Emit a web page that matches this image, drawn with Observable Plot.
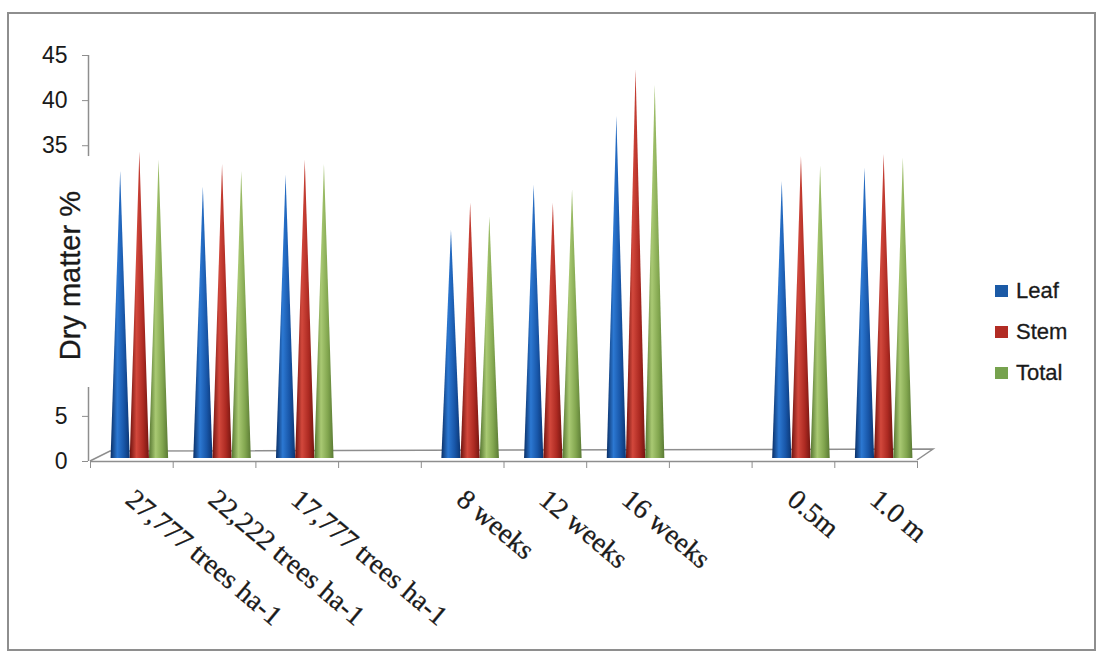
<!DOCTYPE html>
<html><head><meta charset="utf-8">
<script src="https://cdn.jsdelivr.net/npm/d3@7"></script>
<script src="https://cdn.jsdelivr.net/npm/@observablehq/plot@0.6"></script>
<style>
body{margin:0;background:#fff;}
#wrap{position:relative;width:1098px;height:653px;overflow:hidden;background:#fff;}
#chart{position:absolute;left:0;top:0;}
#frame{position:absolute;left:7px;top:12px;width:1089px;height:639px;border:2px solid #8e8e8e;box-sizing:border-box;pointer-events:none;}
#legend{position:absolute;left:995px;top:270px;font-family:"Liberation Sans",Arial,sans-serif;font-size:22px;color:#1a1a1a;-webkit-text-stroke:0.3px #1a1a1a;}
.item{display:flex;align-items:center;height:41px;}
.sw{width:13px;height:12px;margin-right:8px;}
</style></head>
<body>
<div id="wrap"><div id="chart"></div><div id="frame"></div><div id="legend"></div></div>
<script>
// ---- data ----
const categories = ["27,777 trees ha-1", "22,222 trees ha-1", "17,777 trees ha-1", "", "8 weeks", "12 weeks", "16 weeks", "", "0.5m", "1.0 m"];
const seriesNames = ["Leaf", "Stem", "Total"];
const leaf  = [31.8, 30.1, 31.4, null, 25.3, 30.3, 37.9, null, 30.7, 32.2];
const stem  = [34.0, 32.6, 33.1, null, 28.3, 28.3, 43.1, null, 33.5, 33.7];
const total = [33.1, 31.8, 32.6, null, 26.8, 29.8, 41.4, null, 32.4, 33.3];
const yTicks = [0, 5, 35, 40, 45];
const yAxisSegments = [[0, 8.2], [33.8, 45]];

// ---- styles ----
const legendColors = {Leaf: "#1b5aa6", Stem: "#b22c24", Total: "#76a24e"};
const gradStops = {
  Leaf:  ["#0a2f66", "#2c78d2", "#1856a8", "#0b3572"],
  Stem:  ["#6e120e", "#d2483c", "#ad2a22", "#741510"],
  Total: ["#557530", "#a9c973", "#82a64f", "#5a7a34"]
};
const coneWidth = 0.232;   // in category-slot units
const labelFont = '"Liberation Serif","Times New Roman",serif';
const sansFont = '"Liberation Sans",Arial,sans-serif';

const values = {Leaf: leaf, Stem: stem, Total: total};

function conePoints(name, j) {
  const pts = [];
  values[name].forEach((v, i) => {
    if (v == null) return;
    const c = i + 0.5 + (j - 1) * coneWidth;
    const id = name + i;
    pts.push({x: c - coneWidth / 2, y: 0, id});
    pts.push({x: c, y: v, id});
    pts.push({x: c + coneWidth / 2, y: 0, id});
  });
  return pts;
}

function floorMark(index, scales) {
  const ns = "http://www.w3.org/2000/svg";
  const x = scales.x, y = scales.y;
  const x0 = x(0), x1 = x(categories.length), y0 = y(0);
  const p = document.createElementNS(ns, "path");
  p.setAttribute("d", `M${x0},${y0}L${x0 + 20},${y0 - 10}L${x1 + 16},${y0 - 12}L${x1},${y0 - 1}`);
  p.setAttribute("fill", "none");
  p.setAttribute("stroke", "#8e8e8e");
  p.setAttribute("stroke-width", "1.5");
  return p;
}

const coneMarks = seriesNames.map((name, j) =>
  Plot.areaY(conePoints(name, j), {
    x: "x", y: "y", z: "id", curve: "linear",
    fill: `url(#cone-${name})`, dx: 8, dy: -3
  })
);

const svg = Plot.plot({
  width: 1098, height: 653,
  marginLeft: 90, marginRight: 181, marginTop: 55, marginBottom: 192,
  x: {domain: [0, categories.length], axis: null},
  y: {domain: [0, 45], axis: null},
  style: {background: "transparent", overflow: "visible"},
  marks: [
    floorMark,
    Plot.ruleY([0], {x1: 0, x2: categories.length, stroke: "#8e8e8e", strokeWidth: 1.5}),
    Plot.axisX({ticks: d3.range(categories.length + 1), tickSize: 7, tickFormat: () => "", color: "#8e8e8e", label: null}),
    Plot.ruleX(yAxisSegments, {x: 0, y1: d => d[0], y2: d => d[1], stroke: "#8e8e8e", strokeWidth: 1.5, dx: -2}),
    Plot.axisY({ticks: yTicks, tickSize: 6, tickFormat: () => "", color: "#8e8e8e", label: null, dx: -2}),
    Plot.axisY({ticks: yTicks, tickSize: 0, tickPadding: 23, fontSize: 23, fontFamily: sansFont, color: "#1a1a1a", label: null}),
    Plot.text(["Dry matter %"], {x: 0, y: 20.6, text: d => d, rotate: -90, dx: -20, fontSize: 29, fontFamily: sansFont, fill: "#1a1a1a", stroke: "#1a1a1a", strokeWidth: 0.3}),
    ...coneMarks,
    Plot.text(categories, {x: (d, i) => i + 0.5, y: 0, text: d => d, rotate: 40, textAnchor: "start", dx: -2, dy: 34, fontSize: 28, fontFamily: labelFont, fill: "#1a1a1a", stroke: "#1a1a1a", strokeWidth: 0.3})
  ]
});

// gradient definitions for the 3D cone shading
const ns = "http://www.w3.org/2000/svg";
const defs = document.createElementNS(ns, "defs");
seriesNames.forEach(name => {
  const g = document.createElementNS(ns, "linearGradient");
  g.setAttribute("id", `cone-${name}`);
  g.setAttribute("x1", "0"); g.setAttribute("x2", "1");
  g.setAttribute("y1", "0"); g.setAttribute("y2", "0");
  [0, 0.35, 0.7, 1].forEach((o, k) => {
    const s = document.createElementNS(ns, "stop");
    s.setAttribute("offset", o);
    s.setAttribute("stop-color", gradStops[name][k]);
    g.appendChild(s);
  });
  defs.appendChild(g);
});
svg.insertBefore(defs, svg.firstChild);
document.getElementById("chart").appendChild(svg);

// legend
const legend = document.getElementById("legend");
seriesNames.forEach(name => {
  const it = document.createElement("div");
  it.className = "item";
  it.innerHTML = `<span class="sw" style="background:${legendColors[name]}"></span><span>${name}</span>`;
  legend.appendChild(it);
});
</script>
</body></html>
